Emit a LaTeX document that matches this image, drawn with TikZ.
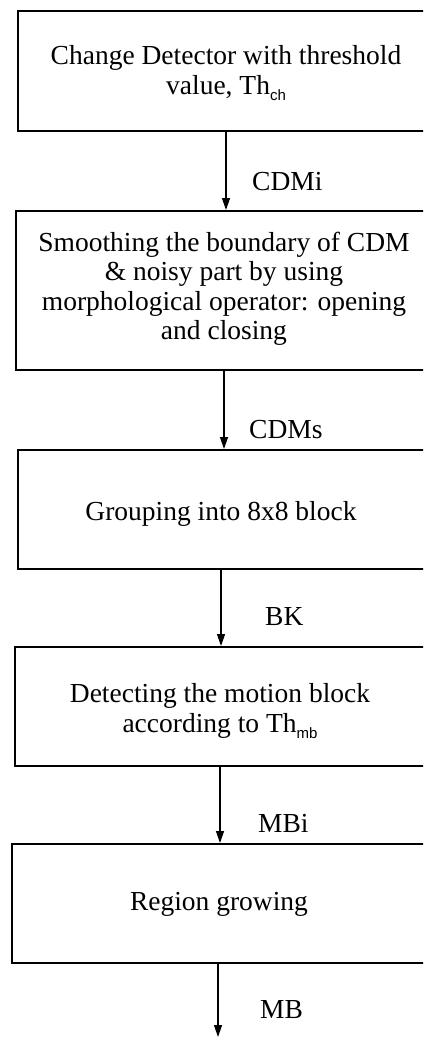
\documentclass[tikz,border=0pt]{standalone}
\usepackage{fontspec}
\setmainfont{Liberation Serif}
\setsansfont{Liberation Sans}
\usetikzlibrary{arrows.meta}
\newcommand{\sub}[1]{\raisebox{-6pt}{\sffamily\fontsize{15}{15}\selectfont #1}}
\tikzset{
  stagebox/.style={draw, line width=1.6pt, rectangle, anchor=north west, inner sep=0pt},
  stagetext/.style={align=center, font=\fontsize{27.5}{29.5}\selectfont, inner sep=0pt},
  flow/.style={line width=1.3pt, -{Triangle[length=12pt,width=8pt]}},
  flowlabel/.style={anchor=west, font=\fontsize{27.5}{29.5}\selectfont, inner sep=0pt}
}
\begin{document}
\begin{tikzpicture}[x=1pt, y=-1pt]
\useasboundingbox (0,0) rectangle (423,1038);
\clip (0,0) rectangle (423,1038);
\fill[white] (0,0) rectangle (423,1038);

% processing stages
\node[stagebox, minimum width=430pt, minimum height=120pt] (b1) at (17,10) {};
\node[stagebox, minimum width=430pt, minimum height=159pt] (b2) at (15,210) {};
\node[stagebox, minimum width=430pt, minimum height=119pt] (b3) at (17,449) {};
\node[stagebox, minimum width=430pt, minimum height=119pt] (b4) at (14,646) {};
\node[stagebox, minimum width=430pt, minimum height=119pt] (b5) at (11,843) {};

\node[stagetext] (t1) at (226,73) {Change Detector with threshold\\value, Th\sub{ch}};
\node[stagetext] (t2) at (224,289) {Smoothing the boundary of CDM\\\& noisy part by using\\morphological operator: opening\\and closing};
\node[stagetext] (t3) at (221,514) {Grouping into 8x8 block};
\node[stagetext] (t4) at (220,711) {Detecting the motion block\\according to Th\sub{mb}};
\node[stagetext] (t5) at (219,904) {Region growing};

% data passed between stages
\coordinate (out) at (218,1037);
\draw[flow] (t1 |- b1.south) -- (t1 |- b2.north);
\draw[flow] (t2 |- b2.south) -- (t2 |- b3.north);
\draw[flow] (t3 |- b3.south) -- (t3 |- b4.north);
\draw[flow] (t4 |- b4.south) -- (t4 |- b5.north);
\draw[flow] (out |- b5.south) -- (out);

\node[flowlabel] (l1) at (252,182) {CDMi};
\node[flowlabel] (l2) at (249,430) {CDMs};
\node[flowlabel] (l3) at (265,617) {BK};
\node[flowlabel] (l4) at (258,823) {MBi};
\node[flowlabel] (l5) at (260,1010) {MB};
\end{tikzpicture}
\end{document}
